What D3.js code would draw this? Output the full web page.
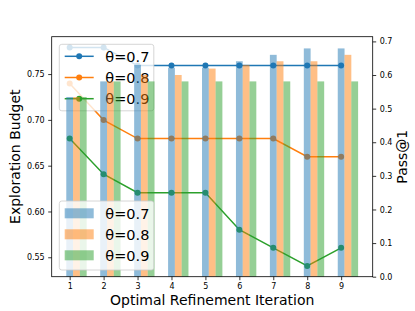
<!DOCTYPE html>
<html><head><meta charset="utf-8">
<script src="https://cdn.jsdelivr.net/npm/d3@7"></script>
<style>body{margin:0;background:#fff}svg{display:block}text{font-family:"DejaVu Sans",sans-serif}</style>
</head><body><svg id="c" width="415" height="311"></svg>
<script>
const iterations = [1,2,3,4,5,6,7,8,9];
const seriesLabels = ["θ=0.7","θ=0.8","θ=0.9"];
const colors = ["#1f77b4","#ff7f0e","#2ca02c"];
// Pass@1 (lines, right axis)
const pass07 = [0.682,0.682,0.628,0.628,0.628,0.628,0.628,0.628,0.628];
const pass08 = [0.575,0.466,0.411,0.411,0.411,0.411,0.411,0.357,0.357];
const pass09 = [0.411,0.305,0.250,0.250,0.250,0.140,0.086,0.032,0.086];
// Exploration Budget (bars, left axis)
const budget07 = [0.725,0.742,0.760,0.757,0.757,0.764,0.771,0.778,0.778];
const budget08 = [0.725,0.742,0.749,0.749,0.756,0.760,0.764,0.764,0.771];
const budget09 = [0.725,0.742,0.742,0.742,0.742,0.742,0.742,0.742,0.742];
const leftTicks = [0.55,0.60,0.65,0.70,0.75];
const rightTicks = [0.0,0.1,0.2,0.3,0.4,0.5,0.6,0.7];

const passSeries = [pass07,pass08,pass09];
const budgetSeries = [budget07,budget08,budget09];

const L=51.7,R=372.7,T=36.7,B=276.7;
const svg=d3.select("#c");
const x=d3.scaleLinear().domain([0.47,9.93]).range([L,R]);
const yL=d3.scaleLinear().domain([0.5288,0.7908]).range([B,T]);
const yR=d3.scaleLinear().domain([0,0.714]).range([B,T]);

svg.append("defs").append("clipPath").attr("id","clip").append("rect")
  .attr("x",L).attr("y",T).attr("width",R-L).attr("height",B-T);

// lines
const gl=svg.append("g").attr("clip-path","url(#clip)");
passSeries.forEach((s,k)=>{
  gl.append("path").datum(s).attr("fill","none").attr("stroke",colors[k]).attr("stroke-width",1.5)
    .attr("d",d3.line().x((d,i)=>x(iterations[i])).y(d=>yR(d)));
  gl.selectAll(null).data(s).enter().append("circle")
    .attr("cx",(d,i)=>x(iterations[i])).attr("cy",d=>yR(d)).attr("r",3).attr("fill",colors[k]);
});

function legend(x0,y0,w,h,items,type){
  const g=svg.append("g");
  g.append("rect").attr("x",x0).attr("y",y0).attr("width",w).attr("height",h).attr("rx",2.5)
    .attr("fill","#fff").attr("fill-opacity",0.8).attr("stroke","#cccccc").attr("stroke-width",0.8);
  items.forEach((it,k)=>{
    const cy=it.cy;
    if(type==="line"){
      g.append("line").attr("x1",64.7).attr("x2",93.7).attr("y1",cy).attr("y2",cy).attr("stroke",colors[k]).attr("stroke-width",1.5);
      g.append("circle").attr("cx",79.2).attr("cy",cy).attr("r",3).attr("fill",colors[k]);
    } else {
      g.append("rect").attr("x",64.7).attr("y",cy-5).attr("width",29).attr("height",10).attr("fill",colors[k]).attr("fill-opacity",0.5);
    }
    g.append("text").attr("x",105.3).attr("y",cy+5.2).attr("font-size",14.5).attr("fill","#000").text(it.label);
  });
}
legend(59.3,44.3,94.5,66.5,seriesLabels.map((l,k)=>({label:l,cy:56.3+k*21.2})),"line");

// bars
const gb=svg.append("g").attr("clip-path","url(#clip)");
budgetSeries.forEach((s,k)=>{
  gb.selectAll(null).data(s).enter().append("rect")
    .attr("x",(d,i)=>x(iterations[i]-0.1+0.2*k)).attr("width",x(0.2)-x(0))
    .attr("y",d=>yL(d)).attr("height",d=>B+5-yL(d))
    .attr("fill",colors[k]).attr("fill-opacity",0.5);
});

legend(59.3,201,94.5,69,seriesLabels.map((l,k)=>({label:l,cy:213.3+k*21})),"bar");

// frame
svg.append("rect").attr("x",L).attr("y",T).attr("width",R-L).attr("height",B-T).attr("fill","none").attr("stroke","#000").attr("stroke-width",0.8);

// axes
const ax=svg.append("g").attr("transform",`translate(0,${B})`)
  .call(d3.axisBottom(x).tickValues(iterations).tickSize(3.5).tickPadding(3.5).tickFormat(d3.format("d")));
const ayl=svg.append("g").attr("transform",`translate(${L},0)`)
  .call(d3.axisLeft(yL).tickValues(leftTicks).tickSize(3.5).tickPadding(3.5).tickFormat(d3.format(".2f")));
const ayr=svg.append("g").attr("transform",`translate(${R},0)`)
  .call(d3.axisRight(yR).tickValues(rightTicks).tickSize(3.5).tickPadding(3.5).tickFormat(d3.format(".1f")));
[ax,ayl,ayr].forEach(g=>{
  g.select(".domain").remove();
  g.selectAll("line").attr("stroke","#000").attr("stroke-width",0.8);
  g.selectAll("text").attr("font-size",8).attr("font-family","DejaVu Sans").attr("fill","#000");
});

svg.append("text").attr("x",(L+R)/2).attr("y",305).attr("text-anchor","middle").attr("font-size",14).text("Optimal Refinement Iteration");
svg.append("text").attr("transform",`translate(20,${(T+B)/2}) rotate(-90)`).attr("text-anchor","middle").attr("font-size",14).text("Exploration Budget");
svg.append("text").attr("transform",`translate(406.5,${(T+B)/2}) rotate(-90)`).attr("text-anchor","middle").attr("font-size",14).text("Pass@1");
</script></body></html>
